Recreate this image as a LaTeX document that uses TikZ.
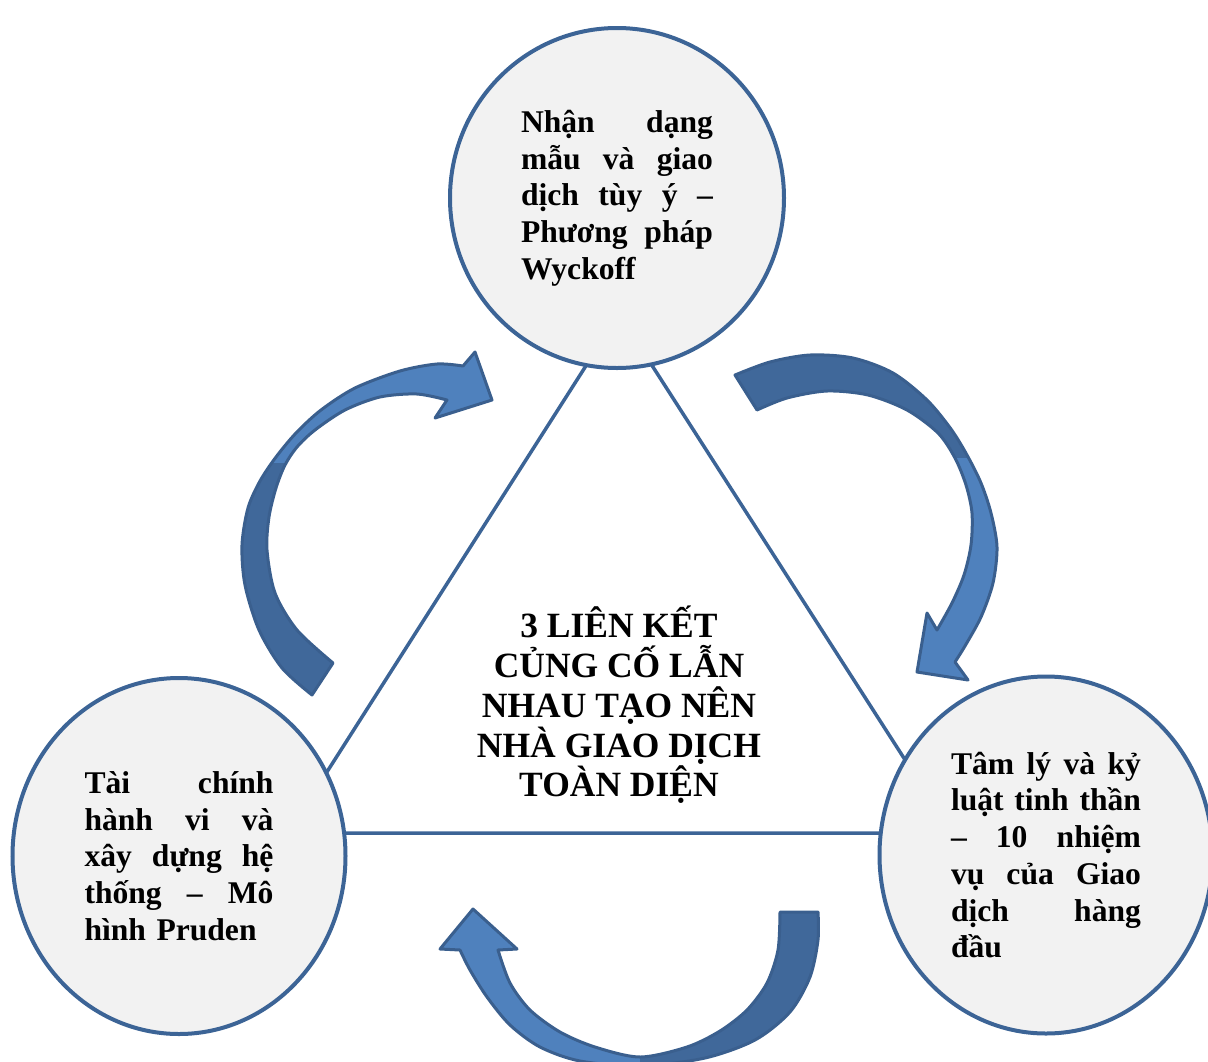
\documentclass[tikz,border=0pt]{standalone}
\usepackage{fontspec}
\setmainfont{Liberation Serif}
\usetikzlibrary{shapes.geometric}

\definecolor{rim}{HTML}{3C6496}
\definecolor{disc}{HTML}{F2F2F2}
\definecolor{arrowlight}{HTML}{4F81BD}
\definecolor{arrowdark}{HTML}{40689A}
\definecolor{arrowrim}{HTML}{3A5F8E}

% one justified line: words separated by \hfill across the block width
\newcommand\jl[1]{\leavevmode\hbox to \hsize{#1}}
\newcommand\sidefont{\fontsize{31.6}{36.7}\selectfont\bfseries\parindent=0pt}
\newcommand\hubfont{\fontsize{35.5}{39.7}\selectfont\bfseries}

% outlines of the three curved arrows (tail edge, head, inner edge)
\newcommand\arrowW{plot[smooth] coordinates {(312,695) (282,668) (259,630) (245,585) (242,545) (248,508) (260,481) (276,457) (296,433) (321,410) (355,388) (400,371) (437,364) (463,366)}
  -- (475,352) -- (492,400) -- (435,418) -- (447,400)
  -- plot[smooth] coordinates {(447,400) (417,394) (380,397) (345,410) (315,430) (297,447) (285,465) (276,488) (269,517) (267,550) (275,593) (297,630) (333,663)}
  -- cycle}
\newcommand\arrowE{(757,410) -- (735,375)
  -- plot[smooth] coordinates {(735,375) (770,362) (810,355) (853,358) (893,373) (927,400) (951,429) (967,455) (981,483) (991,513) (997,547) (993,583) (981,617) (965,646) (955,662)}
  -- (968,680) -- (917,672) -- (927,613) -- (937,630)
  -- plot[smooth] coordinates {(937,630) (952,603) (964,575) (971,545) (972,513) (966,485) (955,458) (938,433) (907,410) (868,395) (827,391) (787,398) (757,410)}
  -- cycle}
\newcommand\arrowS{(780,912) -- (818,912)
  -- plot[smooth] coordinates {(818,912) (818,940) (810,977) (790,1012) (755,1040) (705,1058) (640,1066) (580,1061) (540,1047) (510,1025) (487,997) (470,970) (460,950)}
  -- (440,949) -- (473,909) -- (517,949) -- (498,950)
  -- plot[smooth] coordinates {(498,950) (510,983) (530,1010) (560,1032) (595,1047) (640,1057) (687,1047) (720,1031) (747,1010) (767,983) (778,950) (780,912)}
  -- cycle}

\begin{document}
\begin{tikzpicture}[x=1pt,y=-1pt,
  disk/.style={ellipse, draw=rim, line width=4pt, fill=disc, inner sep=0pt,
               text width=#1, font=\sidefont},
  link/.style={draw=rim, line width=3.5pt},
  band/.style={draw=arrowrim, line width=3pt, line join=round}]

\useasboundingbox (0,0) rectangle (1208,1061);

% triangle joining the three topics
\coordinate (apex) at (619,314);
\coordinate (baseL) at (288,833);
\coordinate (baseR) at (952,833);
\draw[link] (apex) -- (baseL) -- (baseR) -- cycle;

% the three topics
\node[disk=192pt, minimum width=334pt, minimum height=340pt] (wyckoff) at (617,198)
  {\jl{Nhận\hfill dạng}\\\jl{mẫu\hfill và\hfill giao}\\\jl{dịch\hfill tùy\hfill ý\hfill –}\\\jl{Phương\hfill pháp}\\Wyckoff};
\node[disk=189pt, minimum width=333pt, minimum height=356pt] (pruden) at (179,856)
  {\jl{Tài\hfill chính}\\\jl{hành\hfill vi\hfill và}\\\jl{xây\hfill dựng\hfill hệ}\\\jl{thống\hfill –\hfill Mô}\\hình Pruden};
\node[disk=190pt, minimum width=333pt, minimum height=357pt] (mind) at (1046,855)
  {\jl{Tâm\hfill lý\hfill và\hfill kỷ}\\\jl{luật\hfill tinh\hfill thần}\\\jl{–\hfill 10\hfill nhiệm}\\\jl{vụ\hfill của\hfill Giao}\\\jl{dịch\hfill hàng}\\đầu};

% centre statement
\node[font=\hubfont, align=center, inner sep=0pt] (hub) at (619,705)
  {3 LIÊN KẾT\\CỦNG CỐ LẪN\\NHAU TẠO NÊN\\NHÀ GIAO DỊCH\\TOÀN DIỆN};

% curved arrows: light front half, darker tail half, one outline
\fill[arrowlight] \arrowW;
\begin{scope}
  \clip (200,463) rectangle (360,720);
  \fill[arrowdark] \arrowW;
\end{scope}
\draw[band] \arrowW;

\fill[arrowlight] \arrowE;
\begin{scope}
  \clip (700,330) rectangle (1010,457);
  \fill[arrowdark] \arrowE;
\end{scope}
\draw[band] \arrowE;

\fill[arrowlight] \arrowS;
\begin{scope}
  \clip (640,890) rectangle (840,1080);
  \fill[arrowdark] \arrowS;
\end{scope}
\draw[band] \arrowS;

\end{tikzpicture}
\end{document}
